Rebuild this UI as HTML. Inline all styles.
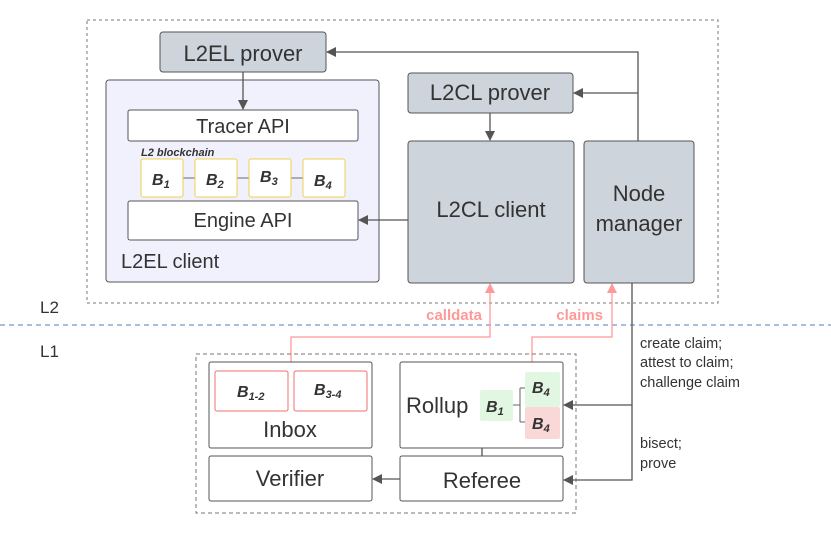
<!DOCTYPE html>
<html><head><meta charset="utf-8"><style>body{margin:0;background:#fff}svg{display:block}text{font-family:"Liberation Sans",sans-serif;fill:#333}</style></head><body>
<svg width="831" height="540" viewBox="0 0 831 540" xmlns="http://www.w3.org/2000/svg">
<defs><marker id="a" markerWidth="10" markerHeight="10" refX="9" refY="5" orient="auto" markerUnits="userSpaceOnUse"><path d="M0,0 L10,5 L0,10 z" fill="#555"/></marker>
<marker id="p" markerWidth="10" markerHeight="10" refX="9" refY="5" orient="auto" markerUnits="userSpaceOnUse"><path d="M0,0 L10,5 L0,10 z" fill="#f99"/></marker></defs>
<rect x="87" y="20" width="631" height="283" fill="none" stroke="#777" stroke-dasharray="3,3"/>
<line x1="0" y1="325" x2="831" y2="325" stroke="#4a7fc0" stroke-dasharray="5,4"/>
<text x="40" y="313" font-size="17">L2</text><text x="40" y="357" font-size="17">L1</text>
<rect x="160" y="32" width="166" height="40" rx="3" fill="#ced4db" stroke="#555"/>
<text x="243" y="61" font-size="22" text-anchor="middle">L2EL prover</text>
<rect x="106" y="80" width="273" height="202" rx="3" fill="#f1f1fd" stroke="#555"/>
<rect x="128" y="110" width="230" height="31" rx="2" fill="#fff" stroke="#555"/>
<text x="243" y="133" font-size="20" text-anchor="middle">Tracer API</text>
<text x="141" y="156" font-size="11" font-weight="bold" font-style="italic">L2 blockchain</text>
<g stroke="#666"><line x1="183" y1="178" x2="195" y2="178"/><line x1="237" y1="178" x2="249" y2="178"/><line x1="291" y1="178" x2="303" y2="178"/></g>
<g fill="#fff" stroke="#f0d050"><rect x="141" y="159" width="42" height="38" rx="2"/><rect x="195" y="159" width="42" height="38" rx="2"/><rect x="249" y="159" width="42" height="38" rx="2"/><rect x="303" y="159" width="42" height="38" rx="2"/></g>
<g font-size="16" font-weight="bold" font-style="italic"><text x="152" y="185">B<tspan font-size="11" dy="3">1</tspan></text><text x="206" y="185">B<tspan font-size="11" dy="3">2</tspan></text><text x="260" y="182">B<tspan font-size="11" dy="3">3</tspan></text><text x="314" y="186">B<tspan font-size="11" dy="3">4</tspan></text></g>
<rect x="128" y="201" width="230" height="39" rx="2" fill="#fff" stroke="#555"/>
<text x="243" y="227" font-size="20" text-anchor="middle">Engine API</text>
<text x="121" y="268" font-size="20">L2EL client</text>
<rect x="408" y="73" width="165" height="40" rx="3" fill="#ced4db" stroke="#555"/>
<text x="490" y="100" font-size="22" text-anchor="middle">L2CL prover</text>
<rect x="408" y="141" width="166" height="142" rx="3" fill="#ced4db" stroke="#555"/>
<text x="491" y="217" font-size="22" text-anchor="middle">L2CL client</text>
<rect x="584" y="141" width="110" height="142" rx="3" fill="#ced4db" stroke="#555"/>
<text x="639" y="201" font-size="22" text-anchor="middle">Node</text><text x="639" y="231" font-size="22" text-anchor="middle">manager</text>
<g stroke="#555" stroke-width="1.3" fill="none">
<path d="M638,141 V52 H327" marker-end="url(#a)"/>
<path d="M638,93 H574" marker-end="url(#a)"/>
<path d="M490,113 V140" marker-end="url(#a)"/>
<path d="M243,72 V109" marker-end="url(#a)"/>
<path d="M408,220 H359" marker-end="url(#a)"/>
<path d="M632,283 V405 H564" marker-end="url(#a)"/>
<path d="M632,405 V480 H564" marker-end="url(#a)"/>
<path d="M400,479 H373" marker-end="url(#a)"/>
<path d="M482,448 V456"/>
</g>
<g stroke="#f99" stroke-width="1.3" fill="none">
<path d="M291,362 V337 H490 V284" marker-end="url(#p)"/>
<path d="M532,362 V337 H612 V284" marker-end="url(#p)"/>
</g>
<text x="482" y="320" font-size="15" font-weight="bold" text-anchor="end" style="fill:#f99">calldata</text>
<text x="603" y="320" font-size="15" font-weight="bold" text-anchor="end" style="fill:#f99">claims</text>
<rect x="196" y="354" width="380" height="159" fill="none" stroke="#777" stroke-dasharray="4,3"/>
<rect x="209" y="362" width="163" height="86" rx="2" fill="#fff" stroke="#555"/>
<rect x="215" y="371" width="73" height="40" rx="2" fill="#fff" stroke="#f07070"/>
<rect x="294" y="371" width="73" height="40" rx="2" fill="#fff" stroke="#f07070"/>
<g font-size="16" font-weight="bold" font-style="italic"><text x="237" y="397">B<tspan font-size="11" dy="3">1-2</tspan></text><text x="314" y="395">B<tspan font-size="11" dy="3">3-4</tspan></text></g>
<text x="290" y="437" font-size="22" text-anchor="middle">Inbox</text>
<rect x="400" y="362" width="163" height="86" rx="2" fill="#fff" stroke="#555"/>
<text x="406" y="413" font-size="22">Rollup</text>
<rect x="480" y="390" width="33" height="31" rx="2" fill="#e2f7e2"/>
<rect x="525" y="372" width="35" height="35" rx="2" fill="#e2f7e2"/>
<rect x="525" y="407" width="35" height="32" rx="2" fill="#fbd8d8"/>
<path d="M513,405 H520 M520,388 V422 M520,388 H525 M520,422 H525" stroke="#666" fill="none"/>
<g font-size="16" font-weight="bold" font-style="italic"><text x="486" y="412">B<tspan font-size="11" dy="3">1</tspan></text><text x="532" y="393">B<tspan font-size="11" dy="3">4</tspan></text><text x="532" y="429">B<tspan font-size="11" dy="3">4</tspan></text></g>
<rect x="209" y="456" width="163" height="45" rx="2" fill="#fff" stroke="#555"/>
<text x="290" y="486" font-size="22" text-anchor="middle">Verifier</text>
<rect x="400" y="456" width="163" height="45" rx="2" fill="#fff" stroke="#555"/>
<text x="482" y="488" font-size="22" text-anchor="middle">Referee</text>
<g font-size="14.5"><text x="640" y="348">create claim;</text><text x="640" y="367">attest to claim;</text><text x="640" y="387">challenge claim</text><text x="640" y="448">bisect;</text><text x="640" y="468">prove</text></g>
</svg>
</body></html>
